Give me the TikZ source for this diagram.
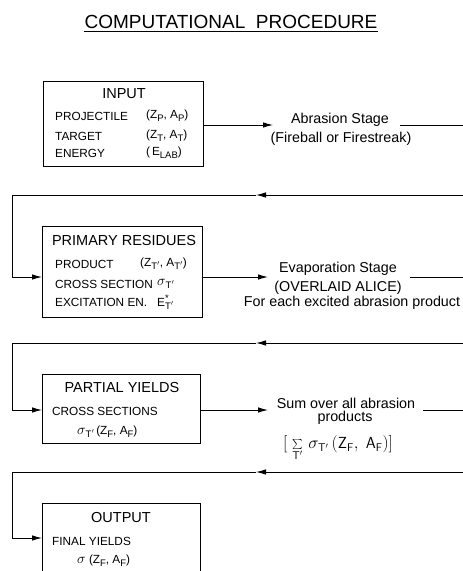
\documentclass[tikz,border=0pt]{standalone}
\usepackage{fontspec}
\setmainfont{Liberation Sans}
\usetikzlibrary{arrows.meta}
\newcommand\dn[1]{\raisebox{-0.45ex}{\fontsize{9.5}{10}\selectfont #1}}
\newcommand\tpr{\dn{T$'$}}
\newcommand\sig{{\fontsize{14.5}{15}\selectfont$\sigma$}}
\begin{document}
\begin{tikzpicture}[x=1pt,y=-1pt,
  box/.style={draw,line width=0.9pt,inner sep=0pt,anchor=north west},
  ttl/.style={font=\fontsize{14.5}{16}\selectfont,inner sep=0pt},
  row/.style={font=\fontsize{11.8}{14}\selectfont,inner sep=0pt,anchor=west},
  lbl/.style={font=\fontsize{14.3}{16}\selectfont,inner sep=0pt},
  ln/.style={line width=0.9pt},
  arr/.style={ln,-{Latex[length=10pt,width=5.5pt]}}]
\useasboundingbox (0,0) rectangle (463,571);

% title
\node[font=\fontsize{19}{21}\selectfont,inner sep=0pt] (title) at (231,22) {COMPUTATIONAL\ \ PROCEDURE};
\draw[line width=1pt] ([yshift=-3pt]title.south west) -- ([yshift=-3pt]title.south east);

% boxes
\node[box,minimum width=160pt,minimum height=85pt] (b1) at (43,81) {};
\node[box,minimum width=160pt,minimum height=91pt] (b2) at (42,226) {};
\node[box,minimum width=158pt,minimum height=69pt] (b3) at (42,374) {};
\node[inner sep=0pt,anchor=north west,minimum width=158pt,minimum height=68pt] (b4) at (42,503) {};
\draw[line width=0.9pt] (b4.south west) |- (b4.north east) -- (b4.south east);

% box 1 text
\node[ttl] (t1) at (124,94) {INPUT};
\node[row] (p1) at (55,116) {PROJECTILE};
\node[row] (p1v) at (146,116) {(Z\dn{P}, A\dn{P})};
\node[row] (p2) at (55,136) {TARGET};
\node[row] (p2v) at (146,136) {(Z\dn{T}, A\dn{T})};
\node[row] (p3) at (55,153) {ENERGY};
\node[row] (p3v) at (146,153) {(\,E\dn{LAB})};

% box 2 text
\node[ttl] (t2) at (124,241) {PRIMARY RESIDUES};
\node[row] (q1) at (55,264) {PRODUCT};
\node[row] (q1v) at (140,264) {(Z\tpr, A\tpr)};
\node[row] (q2) at (55,284) {CROSS SECTION};
\node[row] (q2v) at (157,284) {\sig\tpr};
\node[row] (q3) at (55,302) {EXCITATION EN.};
\node[row] (q3v) at (157,302) {E\rlap{\raisebox{0.9ex}{\fontsize{9.5}{10}\selectfont *}}\tpr};

% box 3 text
\node[ttl] (t3) at (122,388) {PARTIAL YIELDS};
\node[row] (s1) at (52,411) {CROSS SECTIONS};
\node[row] (s1v) at (77,432) {\sig\tpr\,(Z\dn{F}, A\dn{F})};

% box 4 text
\node[ttl] (t4) at (121,518) {OUTPUT};
\node[row] (u1) at (52,541) {FINAL YIELDS};
\node[row] (u1v) at (77,561) {\sig\ (Z\dn{F}, A\dn{F})};

% stage labels
\node[lbl] (abr) at (340,120) {Abrasion Stage};
\node[lbl] (abr2) at (341,139) {(Fireball or Firestreak)};
\node[lbl] (eva) at (338,269) {Evaporation Stage};
\node[lbl] (eva2) at (338,288) {(OVERLAID ALICE)};
\node[lbl] (eva3) at (352,303) {For each excited abrasion product};
\node[lbl] (sum) at (346,403) {Sum over all abrasion};
\node[lbl] (sum2) at (345,418) {products};
\node[lbl,font=\fontsize{16}{18}\selectfont] (sum3) at (338,448) {$\Bigl[\;\sum\limits_{\mathsf{T}'}\,\sigma_{\mathsf{T}'}\,(\mathsf{Z}_{\mathsf{F}},\ \mathsf{A}_{\mathsf{F}})\Bigr]$};

% row 1 connectors
\coordinate (a1) at (273,125);
\coordinate (a1r) at (400,125);
\coordinate (e1) at (463,125);
\draw[arr] (b1.east |- a1) -- (a1);
\draw[ln] (a1r) -- (e1);
\coordinate (r1) at (463,195);
\coordinate (m1) at (256,195);
\coordinate (c1) at (12,195);
\coordinate (c1b) at (12,277);
\draw[arr] (r1) -- (m1);
\draw[ln] (m1) -- (c1) -- (c1b);
\draw[arr] (c1b) -- (b2.west |- c1b);

% row 2 connectors
\coordinate (a2) at (268,277);
\coordinate (a2r) at (410,277);
\coordinate (e2) at (463,277);
\draw[arr] (b2.east |- a2) -- (a2);
\draw[ln] (a2r) -- (e2);
\coordinate (r2) at (463,343);
\coordinate (m2) at (256,343);
\coordinate (c2) at (12,343);
\coordinate (c2b) at (12,410);
\draw[arr] (r2) -- (m2);
\draw[ln] (m2) -- (c2) -- (c2b);
\draw[arr] (c2b) -- (b3.west |- c2b);

% row 3 connectors
\coordinate (a3) at (268,410);
\coordinate (a3r) at (423,410);
\coordinate (e3) at (463,410);
\draw[arr] (b3.east |- a3) -- (a3);
\draw[ln] (a3r) -- (e3);
\coordinate (r3) at (463,472);
\coordinate (m3) at (256,472);
\coordinate (c3) at (12,472);
\coordinate (c3b) at (12,538);
\draw[arr] (r3) -- (m3);
\draw[ln] (m3) -- (c3) -- (c3b);
\draw[arr] (c3b) -- (b4.west |- c3b);
\end{tikzpicture}
\end{document}
